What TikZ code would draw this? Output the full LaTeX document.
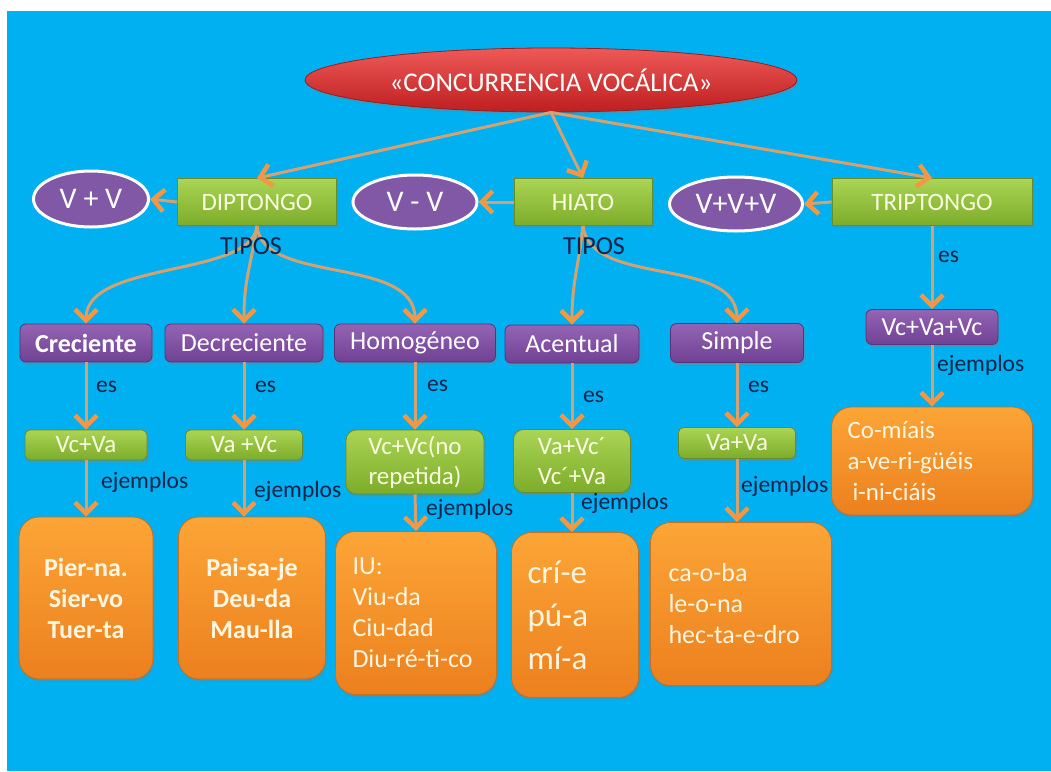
\documentclass[tikz,border=0pt]{standalone}
\usepackage{fontspec}
\setmainfont{Carlito}
\usetikzlibrary{arrows.meta,shapes.geometric,shadows}
\definecolor{bg}{RGB}{0,176,240}
\definecolor{rtop}{RGB}{238,90,88}
\definecolor{rbot}{RGB}{190,30,32}
\definecolor{rdark}{RGB}{150,30,30}
\definecolor{gtop}{RGB}{170,212,85}
\definecolor{gbot}{RGB}{125,172,42}
\definecolor{gdark}{RGB}{105,140,40}
\definecolor{gtxt}{RGB}{250,252,225}
\definecolor{ptop}{RGB}{148,100,180}
\definecolor{pbot}{RGB}{112,64,148}
\definecolor{pdark}{RGB}{90,50,120}
\definecolor{pell}{RGB}{128,88,165}
\definecolor{otop}{RGB}{252,165,55}
\definecolor{obot}{RGB}{236,128,30}
\definecolor{odark}{RGB}{200,110,30}
\definecolor{otxt}{RGB}{255,246,225}
\definecolor{navy}{RGB}{15,35,75}
\definecolor{arrc}{RGB}{212,162,112}
\definecolor{arrh}{RGB}{244,150,66}
\begin{document}
\begin{tikzpicture}[x=1pt,y=-1pt,
  shd/.style={drop shadow={opacity=0.35,shadow xshift=1.5pt,shadow yshift=-2.5pt}},
  root/.style={ellipse,draw=rdark,line width=0.8pt,top color=rtop,bottom color=rbot,
    text=white,font=\fontsize{27}{30}\selectfont,inner sep=0pt,shd},
  gbox/.style={draw=gdark,line width=0.8pt,top color=gtop,bottom color=gbot,
    text=gtxt,font=\fontsize{25}{30}\selectfont,inner sep=0pt,shd},
  pbox/.style={rounded corners=6pt,draw=pdark,line width=0.8pt,top color=ptop,bottom color=pbot,
    text=white,font=\fontsize{26}{30}\selectfont,inner sep=0pt,shd},
  pellipse/.style={ellipse,draw=white,line width=3pt,fill=pell,text=white,
    font=\fontsize{30}{34}\selectfont,inner sep=0pt},
  obox/.style={rounded corners=20pt,draw=odark,line width=0.8pt,top color=otop,bottom color=obot,
    text=otxt,font=\fontsize{26}{31}\selectfont,inner sep=0pt,shd},
  lbl/.style={text=navy,font=\fontsize{23.5}{26}\selectfont,anchor=west,inner sep=0pt},
  tipos/.style={text=navy,font=\fontsize{26}{30}\selectfont,inner sep=0pt},
  arr/.style={draw=arrc,line width=3pt,
    -{Straight Barb[length=11pt,width=22pt,line width=4.5pt,color=arrh]}}
]
\useasboundingbox (0,0) rectangle (1051,771);
\fill[white] (0,0) rectangle (1051,771);
\fill[bg] (7,11) rectangle (1051,771);

% root
\node[root,minimum width=492pt,minimum height=64pt] (root) at (551,80) {«CONCURRENCIA VOCÁLICA»};

% level 1
\node[gbox,minimum width=159pt,minimum height=47pt] (dip) at (257,202) {DIPTONGO};
\node[gbox,minimum width=138pt,minimum height=47pt] (hia) at (583,202) {HIATO};
\node[gbox,minimum width=200pt,minimum height=47pt] (tri) at (932,202) {TRIPTONGO};
\node[pellipse,minimum width=115pt,minimum height=56pt] (vv) at (91,199) {V + V};
\node[pellipse,minimum width=124pt,minimum height=54pt] (vmv) at (415,202) {V - V};
\node[pellipse,minimum width=133pt,minimum height=54pt] (vvv) at (736,204) {V+V+V};

% level 2
\node[pbox,minimum width=132pt,minimum height=38pt,font=\fontsize{26}{30}\selectfont\bfseries] (cre) at (86,343) {Creciente};
\node[pbox,minimum width=158pt,minimum height=38pt] (dec) at (244,343) {Decreciente};
\node[pbox,minimum width=161pt,minimum height=38pt] (hom) at (415,343) {Homogéneo};
\node[pbox,minimum width=134pt,minimum height=38pt] (ace) at (572,344) {Acentual};
\node[pbox,minimum width=133pt,minimum height=39pt] (sim) at (737,343) {Simple};
\node[pbox,minimum width=132pt,minimum height=35pt] (vcvavc) at (932,327) {Vc+Va+Vc};

% level 3
\node[gbox,rounded corners=5pt,minimum width=122pt,minimum height=30pt] (vcva) at (86,445) {Vc+Va};
\node[gbox,rounded corners=5pt,minimum width=117pt,minimum height=30pt] (vavc) at (244,445) {Va +Vc};
\node[gbox,rounded corners=10pt,minimum width=138pt,minimum height=64pt,align=center] (vcvc) at (415,462) {Vc+Vc(no\\repetida)};
\node[gbox,rounded corners=10pt,minimum width=117pt,minimum height=63pt,align=center] (vavc2) at (572,461) {Va+Vc´\\Vc´+Va};
\node[gbox,rounded corners=5pt,minimum width=117pt,minimum height=31pt] (vava) at (737,443) {Va+Va};

% level 4
\node[obox,minimum width=134pt,minimum height=162pt,align=center,font=\fontsize{26}{31}\selectfont\bfseries] (pier) at (86,598) {Pier-na.\\Sier-vo\\Tuer-ta};
\node[obox,minimum width=147pt,minimum height=162pt,align=center,font=\fontsize{26}{31}\selectfont\bfseries] (pai) at (252,598) {Pai-sa-je\\Deu-da\\Mau-lla};
\node[obox,inner xsep=17pt,text width=127pt,minimum height=163pt,align=left] (iu) at (416,613) {IU:\\Viu-da\\Ciu-dad\\Diu-ré-ti-co};
\node[obox,inner xsep=16pt,text width=95pt,minimum height=165pt,align=left,font=\fontsize{33}{43}\selectfont] (crie) at (575,615) {crí-e\\pú-a\\mí-a};
\node[obox,inner xsep=18pt,text width=145pt,minimum height=163pt,align=left] (caoba) at (741,604) {ca-o-ba\\le-o-na\\hec-ta-e-dro};
\node[obox,inner xsep=16pt,text width=169pt,minimum height=108pt,align=left,font=\fontsize{25}{31}\selectfont] (comi) at (932,461) {Co-míais\\a-ve-ri-güéis\\\hspace{5pt}i-ni-ciáis};

% connectors
\draw[arr] (root.south) -- (dip.north);
\draw[arr] (root.south) -- (hia.north);
\draw[arr] (root.south) -- (tri.north);
\draw[arr] (dip.west) -- (vv.east);
\draw[arr] (hia.west) -- (vmv.east);
\draw[arr] (tri.west) -- (vvv.east);

\draw[arr] (dip.south) .. controls (252,278) and (86,260) .. (cre.north);
\draw[arr] (dip.south) .. controls (250,270) and (244,280) .. (dec.north);
\draw[arr] (dip.south) .. controls (262,285) and (415,255) .. (hom.north);
\draw[arr] (hia.south) .. controls (578,270) and (572,282) .. (ace.north);
\draw[arr] (hia.south) .. controls (590,288) and (737,255) .. (sim.north);
\draw[arr] (tri.south) -- (vcvavc.north);

\draw[arr] (cre.south) -- (vcva.north);
\draw[arr] (dec.south) -- (vavc.north);
\draw[arr] (hom.south) -- (vcvc.north);
\draw[arr] (ace.south) -- (vavc2.north);
\draw[arr] (sim.south) -- (vava.north);

\draw[arr] (vcva.south) -- (pier.north);
\draw[arr] (vavc.south) -- (vavc.south |- pai.north);
\draw[arr] (vcvc.south) -- (iu.north);
\draw[arr] (vavc2.south) -- (vavc2.south |- crie.north);
\draw[arr] (vava.south) -- (vava.south |- caoba.north);
\draw[arr] (vcvavc.south) -- (comi.north);

% labels
\node[tipos] (tip1) at (251,246) {TIPOS};
\node[tipos] (tip2) at (594,246) {TIPOS};
\node[lbl] (es1) at (96,387) {es};
\node[lbl] (es2) at (255,387) {es};
\node[lbl] (es3) at (427,386) {es};
\node[lbl] (es4) at (583,397) {es};
\node[lbl] (es5) at (748,387) {es};
\node[lbl] (es6) at (938,257) {es};
\node[lbl] (ej1) at (101,482) {ejemplos};
\node[lbl] (ej2) at (254,491) {ejemplos};
\node[lbl] (ej3) at (426,509) {ejemplos};
\node[lbl] (ej4) at (581,503) {ejemplos};
\node[lbl] (ej5) at (741,486) {ejemplos};
\node[lbl] (ej6) at (937,365) {ejemplos};
\end{tikzpicture}
\end{document}
